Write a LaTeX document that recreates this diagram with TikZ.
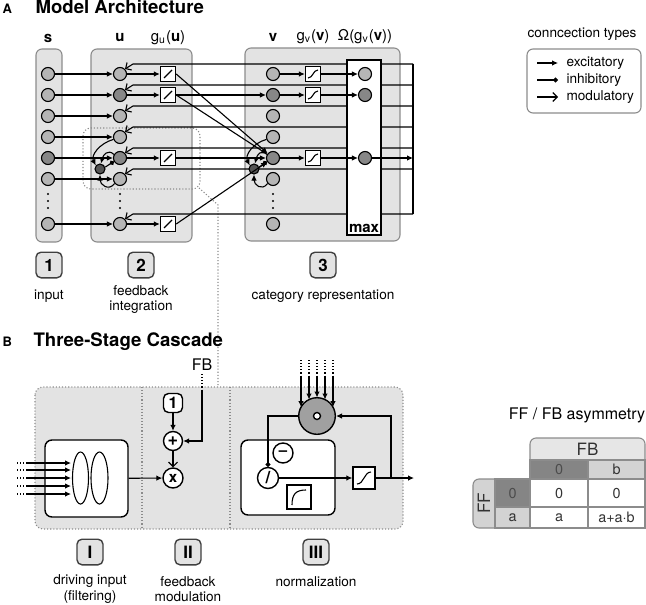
\documentclass[tikz,border=0pt]{standalone}
\usepackage{fontspec}
\setmainfont{TeX Gyre Heros}
\usetikzlibrary{arrows.meta,positioning,calc}
\definecolor{panelgray}{HTML}{E3E3E3}
\definecolor{unitlight}{HTML}{B5B5B5}
\definecolor{unitdark}{HTML}{878787}
\definecolor{interdark}{HTML}{545454}
\definecolor{edgegray}{HTML}{8C8C8C}
\definecolor{poolgray}{HTML}{A0A0A0}
\definecolor{cellhead}{HTML}{E6E6E6}
\definecolor{celllight}{HTML}{D3D3D3}
\definecolor{celldark}{HTML}{858585}
\tikzset{
	exc/.style={-{Latex[length=3pt,width=2.8pt]}},
	inh/.style={-{Circle[length=2.4pt]}},
	mod/.style={-{Straight Barb[length=2.2pt,width=4.4pt]}},
	unit/.style={circle,draw,fill=unitlight,minimum size=6.5pt,inner sep=0pt},
	inter/.style={circle,draw,fill=interdark,minimum size=5pt,inner sep=0pt},
	gbox/.style={draw,fill=white,minimum size=7.5pt,inner sep=0pt,line width=0.7pt},
	panel/.style={draw=edgegray,fill=panelgray,rounded corners=3pt},
	numbox/.style={draw=black!75,line width=0.7pt,fill=panelgray,rounded corners=2.5pt,minimum width=13pt,minimum height=12.8pt,inner sep=0pt,font=\fontsize{8.5}{9}\selectfont\bfseries},
	lab/.style={font=\fontsize{6.8}{7.6}\selectfont,inner sep=0pt,align=center},
	head/.style={font=\fontsize{7.5}{9}\selectfont,inner sep=0pt},
	ttl/.style={font=\fontsize{9.3}{11}\selectfont\bfseries,inner sep=0pt,anchor=base west},
	op/.style={circle,draw,fill=white,line width=0.7pt,minimum size=9.5pt,inner sep=0pt,font=\fontsize{7.5}{8}\selectfont\bfseries},
	wbox/.style={draw,fill=white,line width=0.7pt,rounded corners=3.5pt,inner sep=0pt},
	cell/.style={font=\fontsize{7.2}{8}\selectfont,text=black!80,inner sep=0pt},
}
\begin{document}
\begin{tikzpicture}[x=0.5pt,y=-0.5pt,line width=0.55pt]
	\useasboundingbox (0,0) rectangle (646,604);
	\node[ttl,font=\fontsize{6.5}{8}\selectfont\bfseries] (tA) at (2,13.5) {A};
	\node[ttl] (tMA) at (35,13.5) {Model Architecture};
	\node[head] (hs) at (48,38) {\textbf{s}};
	\node[head] (hu) at (120,38) {\textbf{u}};
	\node[head] (hgu) at (168,38) {g\textsubscript{u}(\textbf{u})};
	\node[head] (hv) at (273,37) {\textbf{v}};
	\node[head] (hgv) at (313,37) {g\textsubscript{v}(\textbf{v})};
	\node[head] (hom) at (365,37) {Ω(g\textsubscript{v}(\textbf{v}))};
	\draw[panel] (36,49) rectangle (62,242);
	\draw[panel] (91,49) rectangle (192,242);
	\draw[panel] (245,48) rectangle (400,241);
	\draw[edgegray,densely dotted,rounded corners=4pt] (83,128) rectangle (200,189);
	\draw[edgegray,densely dotted] (199,188) -- (218,205) -- (218,387);
	\foreach \i/\y/\cs/\cu in {1/74/unitlight/unitlight,2/95/unitlight/unitdark,3/116/unitlight/unitlight,4/137/unitlight/unitlight,5/158/unitdark/unitdark,6/179/unitlight/unitlight,7/224/unitlight/unitlight}{
		\node[unit,fill=\cs] (S\i) at (48,\y) {};
		\node[unit,fill=\cu] (U\i) at (120,\y) {};
	}
	\draw (413,64) -- (413,214);
	\foreach \i/\y in {1/64,2/85,3/106,4/127,5/148,6/169,7/214}{
		\coordinate (bus\i) at (413,\y);
		\draw[mod] (bus\i) -- (133,\y) -- (U\i.45);
	}
	\node[draw,fill=white,minimum width=17pt,minimum height=87.5pt,inner sep=0pt,line width=0.7pt] (MAX) at (364,147.5) {};
	\node[above=1.2pt of MAX.south,inner sep=0pt,font=\fontsize{7.5}{8}\selectfont\bfseries] (maxl) {max};
	\foreach \i/\y/\cv in {1/74/unitlight,2/95/unitdark,3/116/unitlight,4/137/unitlight,5/158/unitdark,6/179/unitlight,7/224/unitlight}{
		\node[unit,fill=\cv] (V\i) at (273,\y) {};
	}
	\foreach \x in {48,120,273}{
		\foreach \d in {194,201,208}{
			\fill (\x,\d) circle[radius=0.55pt];
		}
	}
	\node[inter] (IU) at (100,169) {};
	\node[inter] (IV) at (254,169) {};
	\foreach \i in {1,...,7}{
		\draw[exc] (S\i) -- (U\i);
	}
	\foreach \i/\y in {1/74,2/95,5/158,7/224}{
		\node[gbox] (GU\i) at (168,\y) {};
		\draw ([shift={(-4,4)}]GU\i.center) -- ([shift={(4,-4)}]GU\i.center);
		\draw[exc] (U\i) -- (GU\i);
	}
	\foreach \i/\y/\co in {1/74/unitlight,2/95/unitdark,5/158/unitdark}{
		\node[gbox] (GV\i) at (313,\y) {};
		\draw ([shift={(-5,4)}]GV\i.center) .. controls ([shift={(0,4)}]GV\i.center) and ([shift={(0,-4)}]GV\i.center) .. ([shift={(5,-4)}]GV\i.center);
		\node[unit,fill=\co] (O\i) at (365,\y) {};
		\draw[exc] (V\i) -- (GV\i);
		\draw[exc] (GV\i) -- (O\i);
	}
	\draw[exc] (GU2) -- (V2);
	\draw[exc] (GU5) -- (V5);
	\foreach \i in {1,2,7}{
		\draw[exc] (GU\i.east) -- (V5);
	}
	\coordinate (busout) at (413,158);
	\draw[exc] (O5) -- (busout);
	\foreach \p in {U,V}{
		\draw[exc] (\p4.200) .. controls +(-14,4) and +(-5,-10) .. (I\p.140);
		\draw[exc] (\p5.150) .. controls +(-6,-6) and +(2,-8) .. (I\p.80);
		\draw[exc] (\p6.220) .. controls +(-6,8) and +(0,10) .. (I\p.270);
		\draw[inh] (I\p.20) -- (\p5.210);
	}
	\node[numbox] (n1) at (49,265) {1};
	\node[numbox] (n2) at (141,265) {2};
	\node[numbox] (n3) at (323,265) {3};
	\node[lab] (l1) at (49,296) {input};
	\node[lab] (l2) at (141,299.5) {feedback\\integration};
	\node[lab] (l3) at (323,296) {category representation};
	\node[lab] (ctitle) at (582,34) {conncection types};
	\draw[edgegray,rounded corners=3pt,fill=white] (527,49) rectangle (641,113);
	\coordinate (La1) at (537,63);
	\coordinate (Lb1) at (558,63);
	\coordinate (La2) at (537,80);
	\coordinate (Lb2) at (558,80);
	\coordinate (La3) at (537,97);
	\coordinate (Lb3) at (558,97);
	\draw[exc] (La1) -- (Lb1);
	\draw[inh] (La2) -- (Lb2);
	\draw[mod] (La3) -- (Lb3);
	\node[lab,anchor=west] (le1) at (566,63) {excitatory};
	\node[lab,anchor=west] (le2) at (566,80) {inhibitory};
	\node[lab,anchor=west] (le3) at (566,97) {modulatory};
	\node[ttl,font=\fontsize{6.5}{8}\selectfont\bfseries] (tB) at (2,346) {B};
	\node[ttl] (tTS) at (33,346) {Three-Stage Cascade};
	\draw[edgegray,densely dotted,fill=panelgray,rounded corners=4pt] (35,387) rectangle (403,529);
	\draw[edgegray,densely dotted] (142,387) -- (142,529) (230,387) -- (230,529);
	\node[wbox,minimum width=41.5pt,minimum height=38.5pt] (DRV) at (86.5,478.5) {};
	\draw (80.5,478) ellipse [x radius=8,y radius=26];
	\draw (99.5,478) ellipse [x radius=8.5,y radius=26];
	\foreach \i/\y in {1/463,2/470,3/478,4/486,5/494}{
		\coordinate (inA\i) at (17,\y);
		\coordinate (inB\i) at (27,\y);
		\coordinate (inC\i) at (71,\y);
		\draw[densely dotted] (inA\i) -- (inB\i);
		\draw[exc] (inB\i) -- (inC\i);
	}
	\node[wbox,rounded corners=2.5pt,minimum size=9.5pt,font=\fontsize{8}{8}\selectfont\bfseries] (ONE) at (173,403) {1};
	\node[op,font=\fontsize{9}{9}\selectfont\bfseries] (PLUS) at (173,441) {+};
	\node[op,minimum size=10pt] (TIMES) at (173,478) {x};
	\node[head,font=\fontsize{8}{9}\selectfont] (FBL) at (202,365) {FB};
	\coordinate (fbA) at (202,374);
	\coordinate (fbB) at (202,390);
	\draw[densely dotted] (fbA) -- (fbB);
	\draw[exc] (fbB) |- (PLUS);
	\draw[exc] (ONE) -- (PLUS);
	\draw[mod] (PLUS) -- (TIMES);
	\draw[exc] (DRV) -- (TIMES);
	\node[wbox,minimum width=47pt,minimum height=37.5pt] (NRM) at (288,477.5) {};
	\node[op,minimum size=10pt] (MIN) at (283,453) {--};
	\node[op,minimum size=10.5pt,font=\fontsize{8.5}{9}\selectfont\bfseries] (DIV) at (268,478) {/};
	\node[gbox,minimum size=12pt] (SAT) at (299,497) {};
	\draw ([shift={(-7,8)}]SAT.center) .. controls ([shift={(-7,-3)}]SAT.center) and ([shift={(-3,-7)}]SAT.center) .. ([shift={(7,-7)}]SAT.center);
	\node[circle,draw,fill=poolgray,minimum size=18.3pt,inner sep=0pt,line width=0.7pt] (POOL) at (317,416) {};
	\node[circle,draw,fill=white,minimum size=3.5pt,inner sep=0pt,line width=0.7pt] (POOLc) at (POOL) {};
	\foreach \i/\x/\e in {1/301/407,2/309/399.5,3/317/397.5,4/325/399.5,5/333/407}{
		\coordinate (pA\i) at (\x,360);
		\coordinate (pB\i) at (\x,376);
		\coordinate (pC\i) at (\x,\e);
		\draw[densely dotted] (pA\i) -- (pB\i);
		\draw[exc] (pB\i) -- (pC\i);
	}
	\draw[inh] (POOL.west) -| (DIV.north);
	\node[gbox,minimum size=11pt] (SIG) at (364,478) {};
	\draw ([shift={(-7,6)}]SIG.center) .. controls ([shift={(0,6)}]SIG.center) and ([shift={(0,-6)}]SIG.center) .. ([shift={(7,-6)}]SIG.center);
	\coordinate (OUT) at (414,478);
	\coordinate (TAP) at (391,478);
	\draw[exc] (DIV) -- (SIG);
	\draw[exc] (SIG) -- (OUT);
	\draw[exc] (TAP) |- (POOL.east);
	\node[numbox] (sI) at (90,552) {I};
	\node[numbox] (sII) at (188,552) {II};
	\node[numbox] (sIII) at (316,552) {III};
	\node[lab] (lI) at (90,589) {driving input\\(filtering)};
	\node[lab] (lII) at (188,589) {feedback\\modulation};
	\node[lab] (lIII) at (316,582) {normalization};
	\node[head,font=\fontsize{8}{9}\selectfont] (tabT) at (577,415) {FF / FB asymmetry};
	\draw[edgegray,fill=cellhead,rounded corners=3pt] (530,438) rectangle (645,466);
	\draw[edgegray,fill=celllight,rounded corners=3pt] (473,479) rectangle (501,528);
	\draw[edgegray,fill=celldark] (530,460) rectangle (588,479);
	\draw[edgegray,fill=celllight] (588,460) rectangle (645,479);
	\draw[edgegray,fill=celldark] (495,479) rectangle (530,507);
	\draw[edgegray,fill=celllight] (495,507) rectangle (530,528);
	\draw[edgegray,fill=white] (530,479) rectangle (588,507);
	\draw[edgegray,fill=white] (588,479) rectangle (645,507);
	\draw[edgegray,fill=white] (530,507) rectangle (588,528);
	\draw[edgegray,fill=white] (588,507) rectangle (645,528);
	\node[cell,font=\fontsize{8.5}{9}\selectfont] (cFB) at (587.5,449) {FB};
	\node[cell,font=\fontsize{8.5}{9}\selectfont,rotate=90] (cFF) at (484,503.5) {FF};
	\node[cell,text=black!70] (c12) at (559,469.5) {0};
	\node[cell] (c13) at (616.5,469.5) {b};
	\node[cell,text=black!70] (c21) at (512.5,493) {0};
	\node[cell] (c22) at (559,493) {0};
	\node[cell] (c23) at (616.5,493) {0};
	\node[cell] (c31) at (512.5,517.5) {a};
	\node[cell] (c32) at (559,517.5) {a};
	\node[cell] (c33) at (616.5,517.5) {a+a·b};
\end{tikzpicture}
\end{document}
